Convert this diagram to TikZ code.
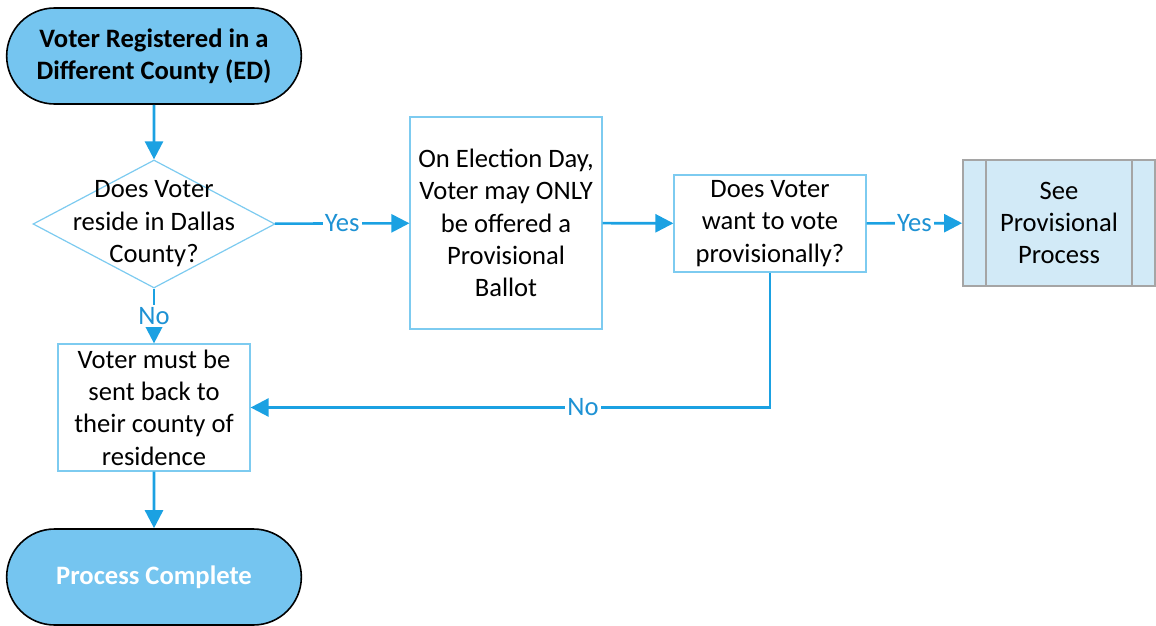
\documentclass[tikz,border=0pt]{standalone}
\usepackage{fontspec}
\setmainfont{Carlito}
\usetikzlibrary{positioning,shapes.geometric,shapes.misc,arrows.meta}
\definecolor{flowblue}{RGB}{27,161,226}
\definecolor{lblblue}{RGB}{30,146,212}
\definecolor{termfill}{RGB}{117,197,240}
\definecolor{boxline}{RGB}{125,203,240}
\definecolor{ppfill}{RGB}{210,234,247}
\definecolor{ppline}{RGB}{165,165,165}

\begin{document}
\begin{tikzpicture}[x=0.5pt,y=-0.5pt,
      every node/.style={font=\fontsize{13.3}{16.2}\selectfont},
      term/.style={rounded rectangle,draw=black,line width=0.8pt,fill=termfill,
        minimum width=154pt,minimum height=48pt,align=center,
        font=\fontsize{13.3}{16.2}\selectfont\bfseries},
      decision/.style={diamond,draw=boxline,line width=0.6pt,fill=white,
        minimum width=121pt,minimum height=64pt,inner sep=0pt},
      stepbox/.style={rectangle,draw=boxline,line width=0.6pt,fill=white,
        minimum width=96pt,inner sep=1pt,align=center},
      predef/.style={rectangle,draw=ppline,line width=0.9pt,fill=ppfill,
        minimum width=96pt,minimum height=63pt,align=center},
      flow/.style={draw=flowblue,line width=1.3pt,-{Triangle[length=9pt,width=9pt]}},
      lbl/.style={fill=white,text=lblblue,inner sep=1pt}]
  \useasboundingbox (0,0) rectangle (1156,626);

  % shapes
  \node (start) [term] at (154,56) {Voter Registered in a\\Different County (ED)};
  \node (resq) [decision] at (154,224) {};
  \node (resqtext) [align=center] at (resq.center) {Does Voter\\reside in Dallas\\County?};
  \node (offer) [stepbox,minimum height=106pt] at (506,223) {On Election Day,\\Voter may ONLY\\be offered a\\Provisional\\Ballot};
  \node (wantq) [stepbox,minimum height=48.5pt] at (770,223.5) {Does Voter\\want to vote\\provisionally?};
  \node (seepp) [predef] at (1059,223) {See\\Provisional\\Process};
  \draw [ppline,line width=0.9pt] ([xshift=12pt]seepp.north west) -- ([xshift=12pt]seepp.south west)
        ([xshift=-12pt]seepp.north east) -- ([xshift=-12pt]seepp.south east);
  \node (sendback) [stepbox,minimum height=63.5pt] at (154,407.5) {Voter must be\\sent back to\\their county of\\residence};
  \node (finish) [term,text=white] at (154,577) {Process Complete};

  % connectors
  \draw [flow] (start) -- (resq);
  \draw [flow] (resq) -- node [lbl] {Yes} (offer);
  \draw [flow] (offer) -- (wantq);
  \draw [flow] (wantq) -- node [lbl] {Yes} (seepp);
  \draw [flow] (resq) -- node [lbl] {No} (sendback);
  \draw [flow] (wantq.south) |- node [lbl,pos=0.68] {No} (sendback.east);
  \draw [flow] (sendback) -- (finish);
\end{tikzpicture}
\end{document}
